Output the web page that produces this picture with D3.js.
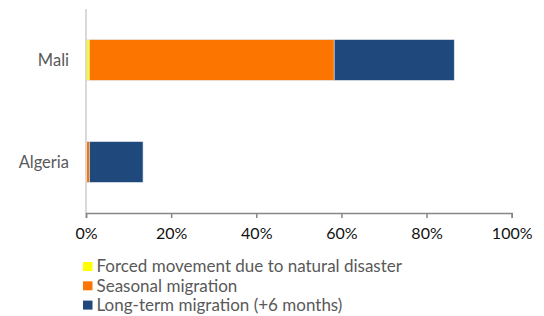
<!DOCTYPE html>
<html>
<head>
<meta charset="utf-8">
<script src="https://cdn.jsdelivr.net/npm/d3@7"></script>
<style>
	body { margin: 0; background: #fff; }
	text { font-family: "Lato", "Open Sans", sans-serif; fill: #595959; }
</style>
</head>
<body>
<svg id="chart" width="544" height="316"></svg>
<script>
var countries = ["Mali", "Algeria"];
var seriesNames = ["Forced movement due to natural disaster", "Seasonal migration", "Long-term migration (+6 months)"];
var forced = [0.8, 0];
var seasonal = [57.5, 0.8];
var longTerm = [28.2, 12.6];
var ticks = [0, 20, 40, 60, 80, 100];
var colors = ["#ffff00", "#fb7500", "#1f497d"];

var svg = d3.select("#chart");
var m = { left: 86, right: 511.7, top: 9, bottom: 213 };

var x = d3.scaleLinear().domain([0, 100]).range([m.left, m.right]);
var y = d3.scaleBand().domain(countries).range([m.top, m.bottom])
	.paddingInner(0.6).paddingOuter(0.3);

var rows = countries.map(function(c, i) {
	return { country: c, v: [forced[i], seasonal[i], longTerm[i]] };
});

var stack = d3.stack().keys([0, 1, 2]).value(function(d, k) { return d.v[k]; });
var layers = stack(rows);

// bars
svg.append("g").selectAll("g")
	.data(layers)
	.enter().append("g")
	.attr("fill", function(d, i) { return colors[i]; })
	.selectAll("rect")
	.data(function(d) { return d; })
	.enter().append("rect")
	.attr("x", function(d) { return x(d[0]); })
	.attr("width", function(d) { return Math.max(0, x(d[1]) - x(d[0])); })
	.attr("y", function(d) { return y(d.data.country); })
	.attr("height", y.bandwidth())
	.attr("stroke", function(d) { return (d[1] - d[0]) > 0 ? "#dfe6ee" : "none"; })
	.attr("stroke-width", 0.6);

// vertical axis line
svg.append("line")
	.attr("x1", x(0)).attr("x2", x(0))
	.attr("y1", m.top).attr("y2", m.bottom)
	.attr("stroke", "#d9d9d9").attr("stroke-width", 2);

// category labels
svg.append("g").selectAll("text")
	.data(countries)
	.enter().append("text")
	.attr("x", 69)
	.attr("y", function(d) { return y(d) + y.bandwidth() / 2; })
	.attr("dy", "0.35em")
	.attr("text-anchor", "end")
	.style("font-size", "16.5px")
	.text(function(d) { return d; });

// x axis
var xAxis = d3.axisBottom(x).tickValues(ticks)
	.tickFormat(function(d) { return d + "%"; })
	.tickSize(5).tickSizeOuter(5).tickPadding(10);

var gx = svg.append("g")
	.attr("transform", "translate(0," + m.bottom + ")")
	.call(xAxis);
gx.select(".domain").attr("stroke", "#868686").attr("stroke-width", 1.5);
gx.selectAll(".tick line").attr("stroke", "#868686").attr("stroke-width", 1.5);
gx.selectAll(".tick text")
	.style("font-family", "Lato, sans-serif")
	.style("font-size", "16px")
	.style("fill", "#111");

// legend
var legend = svg.append("g").selectAll("g")
	.data(seriesNames)
	.enter().append("g")
	.attr("transform", function(d, i) { return "translate(83," + (266.5 + i * 19.3) + ")"; });
legend.append("rect")
	.attr("x", 0).attr("y", -4.5)
	.attr("width", 9.5).attr("height", 9)
	.attr("fill", function(d, i) { return colors[i]; });
legend.append("text")
	.attr("x", 13.5)
	.attr("dy", "0.35em")
	.style("font-size", "17px")
	.text(function(d) { return d; });
</script>
</body>
</html>
